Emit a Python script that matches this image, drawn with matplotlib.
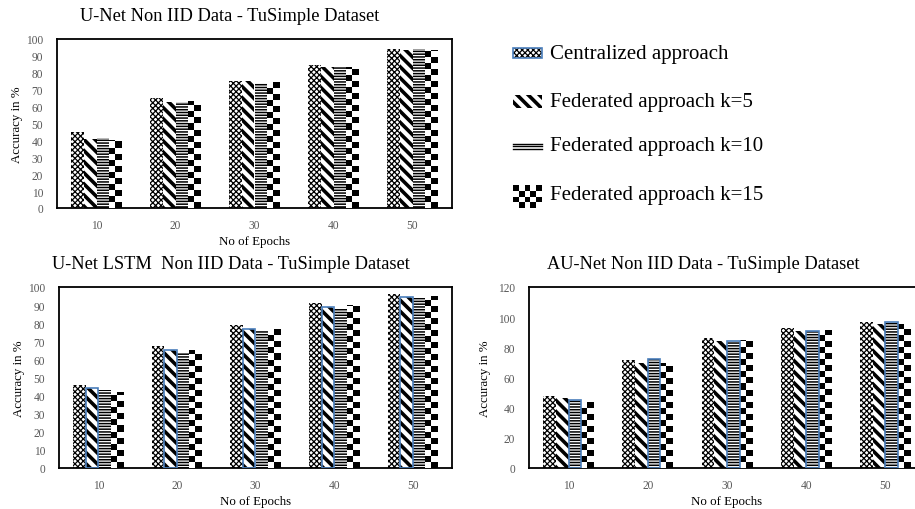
import numpy as np
import matplotlib
matplotlib.use("Agg")
import matplotlib.pyplot as plt
from matplotlib.patches import Rectangle

plt.rcParams['font.family'] = ['Liberation Serif', 'DejaVu Serif']

# ---------------- data ----------------
epochs = ["10", "20", "30", "40", "50"]
series = ["Centralized approach", "Federated approach k=5",
          "Federated approach k=10", "Federated approach k=15"]

unet_central = [45, 65, 75, 84.5, 94]
unet_k5 = [41, 63, 75, 83.5, 93.5]
unet_k10 = [41.5, 63, 74, 83.5, 94]
unet_k15 = [40.5, 63.5, 74.5, 83.5, 93.5]

lstm_central = [46, 67.5, 79, 91, 96]
lstm_k5 = [44, 65, 77, 89, 94.5]
lstm_k10 = [43, 63.5, 76.5, 88, 94]
lstm_k15 = [42, 65, 77, 90, 95]

au_central = [48, 71.5, 86, 92.5, 96.5]
au_k5 = [46.5, 69.5, 84.5, 90.5, 95.5]
au_k10 = [45, 72.5, 84, 90.5, 96.5]
au_k15 = [43.5, 69.5, 85, 91.5, 95.5]

# ---------------- styles ----------------
BLUE = '#4a7ebb'
TICK_GRAY = '#595959'
DPI = 100
fig = plt.figure(figsize=(9.15, 5.10), dpi=DPI)


def set_hlw(p, lw):
    if hasattr(p, 'set_hatch_linewidth'):
        p.set_hatch_linewidth(lw)


def checker(ax, patch, zorder=3):
    x0 = patch.get_x()
    w = patch.get_width()
    h = patch.get_height()
    bbox = ax.get_position()
    ax_h_px = bbox.height * fig.get_figheight() * DPI
    y0, y1 = ax.get_ylim()
    units_per_px = (y1 - y0) / ax_h_px
    sq = 6.0 * units_per_px
    nrows = max(1, int(np.ceil(h / sq)))
    img = (np.indices((nrows, 2)).sum(axis=0) + 1) % 2
    im = ax.imshow(img, cmap='gray', interpolation='nearest', aspect='auto',
                   extent=(x0, x0 + w, 0, nrows * sq), origin='lower',
                   zorder=zorder, vmin=0, vmax=1)
    im.set_clip_path(patch)


def draw_chart(rect, title, tx, data, ymax, ystep, blue_idx, ylpad):
    ax = fig.add_axes(rect)
    x = np.arange(len(epochs))
    width = 0.16
    offsets = [-0.24, -0.08, 0.08, 0.24]
    ax.set_xlim(-0.5, len(epochs) - 0.5)
    ax.set_ylim(0, ymax)
    hatches = ['xxxxxx', '\\\\\\', '------', None]
    hlws = [0.9, 2.6, 1.1, 1.0]
    for i, vals in enumerate(data):
        if i == 3:
            bars = ax.bar(x + offsets[i], vals, width, color='white',
                          edgecolor='none', zorder=2)
            for b in bars:
                checker(ax, b)
        else:
            bars = ax.bar(x + offsets[i], vals, width, color='white',
                          edgecolor='black', hatch=hatches[i], linewidth=0,
                          zorder=2)
            for b in bars:
                set_hlw(b, hlws[i])
        if i == blue_idx:
            for b in bars:
                ax.add_patch(Rectangle((b.get_x(), 0), b.get_width(),
                                       b.get_height(), fill=False,
                                       edgecolor=BLUE, linewidth=1.2,
                                       zorder=4))
    ax.set_xlim(-0.5, len(epochs) - 0.5)
    ax.set_ylim(0, ymax)
    ax.set_xticks(x)
    ax.set_xticklabels(epochs)
    ax.set_yticks(np.arange(0, ymax + 1, ystep))
    ax.tick_params(length=0, labelsize=8.3, colors=TICK_GRAY, pad=8)
    ax.tick_params(axis='y', pad=10)
    for s in ax.spines.values():
        s.set_linewidth(1.3)
        s.set_color('black')
    ax.set_xlabel('No of Epochs', fontsize=9.3, labelpad=3)
    ax.set_ylabel('Accuracy in %', fontsize=9.3, labelpad=ylpad)
    fig.text(tx, rect[1] + rect[3] + 0.047, title, ha='center', va='center',
             fontsize=13.2)
    return ax


draw_chart([57 / 915, 1 - 209 / 510, 395 / 915, 169 / 510],
           'U-Net Non IID Data - TuSimple Dataset', 230 / 915,
           [unet_central, unet_k5, unet_k10, unet_k15], 100, 10, None, 2)
draw_chart([59 / 915, 1 - 469 / 510, 393 / 915, 181 / 510],
           'U-Net LSTM  Non IID Data - TuSimple Dataset', 231 / 915,
           [lstm_central, lstm_k5, lstm_k10, lstm_k15], 100, 10, 1, 2)
draw_chart([529 / 915, 1 - 469 / 510, 396 / 915, 181 / 510],
           'AU-Net Non IID Data - TuSimple Dataset', 703 / 915,
           [au_central, au_k5, au_k10, au_k15], 120, 20, 2, 5)

# ---------------- legend (pixel coords) ----------------
lg = fig.add_axes([0, 0, 1, 1], facecolor='none')
lg.set_xlim(0, 915)
lg.set_ylim(510, 0)
lg.axis('off')
ys = [54, 102, 147, 196]
for i, (lab, yc) in enumerate(zip(series, ys)):
    if i == 0:
        r = Rectangle((513, yc - 5), 29, 10, facecolor='white', edgecolor='black',
                      hatch='xxxxxx', linewidth=0)
        set_hlw(r, 0.9)
        lg.add_patch(r)
        lg.add_patch(Rectangle((513, yc - 5), 29, 10, fill=False,
                               edgecolor=BLUE, linewidth=1.2))
    elif i == 1:
        r = Rectangle((513, yc - 6), 29, 13, facecolor='white', edgecolor='black',
                      hatch='\\\\\\', linewidth=0)
        set_hlw(r, 2.6)
        lg.add_patch(r)
    elif i == 2:
        for k in range(3):
            lg.plot([513, 542], [yc - 2.5 + 2.5 * k, yc - 2.5 + 2.5 * k],
                    color='black', lw=1.0)
    else:
        s = 5.8
        for rr in range(4):
            for cc in range(5):
                if (rr + cc) % 2 == 0:
                    lg.add_patch(Rectangle((513 + cc * s, yc - 10 + rr * s), s, s,
                                           facecolor='black', edgecolor='none'))
    lg.text(550, yc, lab, fontsize=15, va='center', ha='left')

fig.savefig('out.png', dpi=DPI)
